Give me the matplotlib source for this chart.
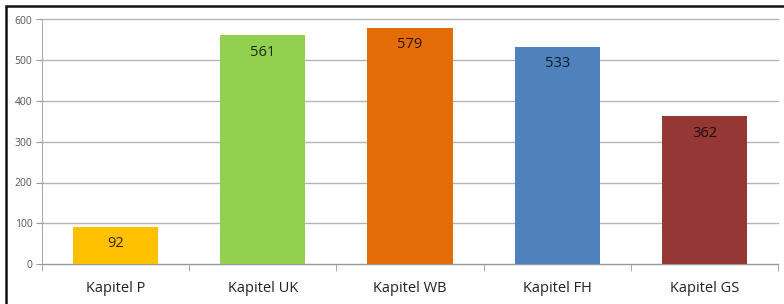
import matplotlib.pyplot as plt
from matplotlib.patches import Rectangle

categories = ["Kapitel P", "Kapitel UK", "Kapitel WB", "Kapitel FH", "Kapitel GS"]
values = [92, 561, 579, 533, 362]
colors = ["#FFC000", "#92D050", "#E36C09", "#4F81BD", "#953735"]

plt.rcParams['font.family'] = ['Open Sans', 'DejaVu Sans']

fig = plt.figure(figsize=(7.84, 3.04), dpi=100)
ax = fig.add_axes([42 / 784, 1 - 264 / 304, (778 - 42) / 784, (264 - 19.5) / 304])

x = list(range(len(categories)))
bars = ax.bar(x, values, width=0.58, color=colors, zorder=3)
for b, v in zip(bars, values):
    ax.annotate(str(v), (b.get_x() + b.get_width() / 2, v), xytext=(0, -12),
                textcoords='offset points', ha='center', va='center',
                fontsize=10.5, color='black', alpha=0.8, zorder=4)

ax.set_xlim(-0.5, len(categories) - 0.5)
ax.set_ylim(0, 600)
ax.set_yticks(range(0, 601, 100))
ax.yaxis.grid(True, color='#b4b4b4', linewidth=1, zorder=0)
ax.set_axisbelow(True)
for gl in ax.get_ygridlines():
    gl.set_clip_on(False)

ax.set_xticks(x)
ax.set_xticklabels(categories, fontsize=10.5, color='#222222')
ax.set_xticks([i + 0.5 for i in x[:-1]] + [-0.5, len(categories) - 0.5], minor=True)
ax.tick_params(axis='x', which='major', length=0, pad=12)
ax.tick_params(axis='x', which='minor', length=5, color='#999999', direction='out')
ax.tick_params(axis='y', length=4, color='#999999', labelsize=7.5, labelcolor='#555555', pad=3)

for s in ['top', 'right']:
    ax.spines[s].set_visible(False)
ax.spines['left'].set_color('#aaaaaa')
ax.spines['bottom'].set_color('#999999')

# outer frame (cut at right and bottom)
fig.patches.append(Rectangle((6 / 784, -0.1), 1.2, 1 - 6 / 304 + 0.1, transform=fig.transFigure,
                             fill=False, edgecolor='#111111', linewidth=1.8))

fig.savefig("out.png", dpi=100)
